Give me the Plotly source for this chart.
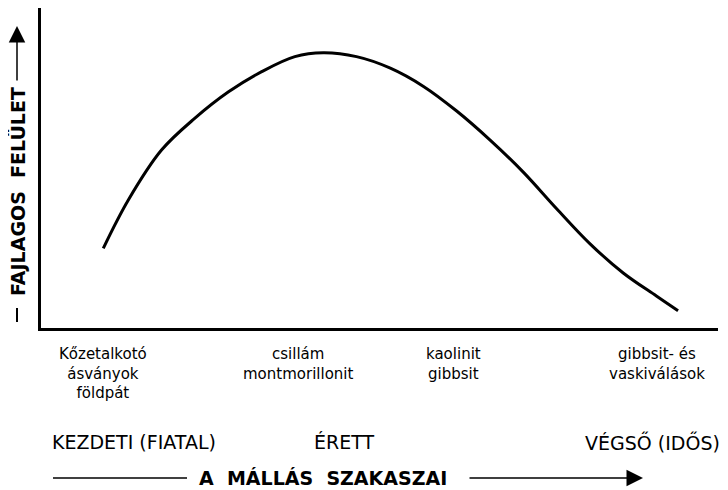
import plotly.graph_objects as go

# weathering stage (0-100) vs. specific surface (0-100)
stage   = [9.2, 12.9, 17.8, 22.7, 27.7, 32.6, 37.5, 41.7, 46.6, 51.6,
           56.5, 61.4, 66.3, 71.2, 76.2, 81.1, 86.0, 90.9, 94.1]
surface = [24.9, 40.0, 55.6, 65.5, 73.8, 80.1, 84.8, 86.0, 84.8, 81.2,
           75.5, 67.8, 58.8, 48.8, 37.2, 26.3, 17.2, 10.0, 5.4]

minerals = ["Kőzetalkotó<br>ásványok<br>földpát",
            "csillám<br>montmorillonit",
            "kaolinit<br>gibbsit",
            "gibbsit- és<br>vaskiválások"]
mineral_x = [9.2, 37.9, 60.9, 91.0]

stages = ["KEZDETI (FIATAL)", "ÉRETT", "VÉGSŐ (IDŐS)"]

x_title = "A  MÁLLÁS  SZAKASZAI"
y_title = "FAJLAGOS  FELÜLET"

font = "DejaVu Sans"

fig = go.Figure()
fig.add_trace(go.Scatter(x=stage, y=surface, mode="lines",
                         line=dict(color="black", width=3, shape="spline", smoothing=1.0),
                         hoverinfo="skip"))

# page body has an 8px margin, so the figure is 8px smaller than the window
fig.update_layout(width=720, height=482,
                  margin=dict(l=33, r=10, t=0, b=162),
                  paper_bgcolor="white", plot_bgcolor="white",
                  showlegend=False)
fig.update_xaxes(range=[0, 100], showgrid=False, zeroline=False, showticklabels=False,
                 ticks="", showline=True, linecolor="black", linewidth=3)
fig.update_yaxes(range=[0, 100], showgrid=False, zeroline=False, showticklabels=False,
                 ticks="", showline=True, linecolor="black", linewidth=3)

def px(v):
    # reference pixel x -> paper x
    return (v - 41) / 677

def py(v):
    # reference pixel y -> paper y
    return (328 - v) / 320

# mineral labels under the axis
for txt, xv in zip(minerals, mineral_x):
    fig.add_annotation(x=xv, y=py(343), xref="x", yref="paper", text=txt,
                       showarrow=False, xanchor="center", yanchor="top",
                       font=dict(family=font, size=15, color="black"))

# stage names
fig.add_annotation(x=px(50), y=py(442), xref="paper", yref="paper", text=stages[0],
                   showarrow=False, xanchor="left", yanchor="middle",
                   font=dict(family=font, size=19, color="black"))
fig.add_annotation(x=px(344), y=py(442), xref="paper", yref="paper", text=stages[1],
                   showarrow=False, xanchor="center", yanchor="middle",
                   font=dict(family=font, size=19, color="black"))
fig.add_annotation(x=px(722), y=py(442), xref="paper", yref="paper", text=stages[2],
                   showarrow=False, xanchor="right", yanchor="middle",
                   font=dict(family=font, size=19, color="black"))

# x title with arrow
fig.add_annotation(x=px(323), y=py(478), xref="paper", yref="paper",
                   text="<b>" + x_title + "</b>", showarrow=False,
                   xanchor="center", yanchor="middle",
                   font=dict(family=font, size=19, color="black"))
fig.add_shape(type="line", xref="paper", yref="paper",
              x0=px(53), x1=px(187), y0=py(478), y1=py(478),
              line=dict(color="black", width=1.5))
fig.add_annotation(x=px(643), y=py(478), xref="paper", yref="paper",
                   ax=-175, ay=0, text="", showarrow=True,
                   arrowhead=2, arrowsize=2.2, arrowwidth=1.5, arrowcolor="black")

# y title: dash, text, arrow
fig.add_annotation(x=px(17), y=py(192), xref="paper", yref="paper",
                   text="<b>" + y_title + "</b>", showarrow=False, textangle=-90,
                   xanchor="center", yanchor="middle",
                   font=dict(family=font, size=19, color="black"))
fig.add_shape(type="line", xref="paper", yref="paper",
              x0=px(17), x1=px(17), y0=py(308), y1=py(322),
              line=dict(color="black", width=2))
fig.add_annotation(x=px(17), y=py(26), xref="paper", yref="paper",
                   ax=0, ay=56, text="", showarrow=True,
                   arrowhead=2, arrowsize=2.2, arrowwidth=1.5, arrowcolor="black")

fig.write_html("out.html")
